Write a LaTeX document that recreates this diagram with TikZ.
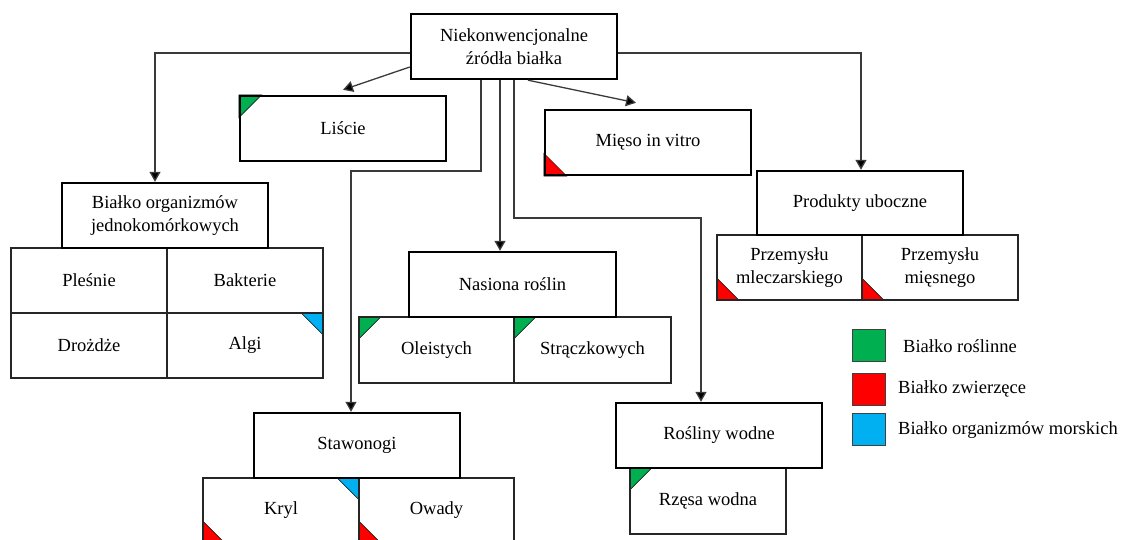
\documentclass[tikz,border=0pt]{standalone}
\usepackage{fontspec}
\setmainfont{Liberation Serif}
\newfontfamily\tnr{Liberation Serif}
\usetikzlibrary{arrows.meta,calc}
\pgfdeclarelayer{bg}
\pgfsetlayers{bg,main}
\definecolor{lgreen}{HTML}{00B050}
\definecolor{lred}{HTML}{FF0000}
\definecolor{lblue}{HTML}{00B0F0}
\definecolor{lineg}{HTML}{3A3A3A}
\newcommand\fsz{\tnr\fontsize{18.5}{23}\selectfont}
\newcommand\triTL[2]{\filldraw[tri,fill=#2] (#1.north west) -- ++(23,0) -- ++(-23,23) -- cycle;}
\newcommand\triTR[2]{\filldraw[tri,fill=#2] (#1.north east) -- ++(-23,0) -- ++(23,23) -- cycle;}
\newcommand\triBL[2]{\filldraw[tri,fill=#2] (#1.south west) -- ++(23,0) -- ++(-23,-23) -- cycle;}
\begin{document}
\begin{tikzpicture}[x=1pt,y=-1pt,
  every node/.style={font=\fsz},
  mainbox/.style={draw=black, line width=2.4pt, minimum width=206pt, minimum height=65pt, align=center, inner sep=0pt},
  subbox/.style={draw=black!85, line width=1.3pt, minimum height=65pt, align=center, inner sep=0pt},
  conn/.style={draw=lineg, line width=1.3pt, -{Triangle[length=10pt,width=11pt,fill=black]}},
  tri/.style={draw=black, line width=0.5pt},
  legbox/.style={draw=black!75, line width=1pt, minimum width=33pt, minimum height=32pt, inner sep=0pt},
  legtext/.style={anchor=west, inner sep=0pt}]
\useasboundingbox (0,0) rectangle (1121,540);
% sub boxes
\node[subbox, minimum width=156pt] (ples) at (89,280.5) {Pleśnie};
\node[subbox, minimum width=156pt] (bakt) at (245,280.5) {Bakterie};
\node[subbox, minimum width=156pt] (droz) at (89,345.5) {Drożdże};
\node[subbox, minimum width=156pt] (algi) at (245,345.5) {Algi};
\node[subbox, minimum width=145pt] (mlecz) at (789.5,267.5) {Przemysłu\\mleczarskiego};
\node[subbox, minimum width=156pt] (miesn) at (940,267.5) {Przemysłu\\mięsnego};
\node[subbox, minimum width=155pt, minimum height=66pt] (oleis) at (436.5,350) {Oleistych};
\node[subbox, minimum width=157pt, minimum height=66pt] (strak) at (592.5,350) {Strączkowych};
\node[subbox, minimum width=156pt] (kryl) at (281,510.5) {Kryl};
\node[subbox, minimum width=155pt] (owady) at (436.5,510.5) {Owady};
\node[subbox, minimum width=156pt, minimum height=66pt] (rzesa) at (708,501) {Rzęsa wodna};
% main boxes
\node[mainbox] (top) at (514,46.5) {Niekonwencjonalne\\źródła białka};
\node[mainbox] (liscie) at (343,128.5) {Liście};
\node[mainbox] (mieso) at (648,142.5) {Mięso in vitro};
\node[mainbox] (bialko) at (165,215.5) {Białko organizmów\\jednokomórkowych};
\node[mainbox, minimum height=64pt] (produkty) at (860,203) {Produkty uboczne};
\node[mainbox, minimum width=207pt] (nasiona) at (512.5,284.5) {Nasiona roślin};
\node[mainbox] (staw) at (357,445.5) {Stawonogi};
\node[mainbox] (rosl) at (719,435.5) {Rośliny wodne};
% corner marks
\begin{pgfonlayer}{bg}
\triTL{liscie}{lgreen}
\triBL{mieso}{lred}
\triTR{algi}{lblue}
\triTL{oleis}{lgreen}
\triTL{strak}{lgreen}
\triBL{mlecz}{lred}
\triBL{miesn}{lred}
\triTR{kryl}{lblue}
\triBL{kryl}{lred}
\triBL{owady}{lred}
\triTL{rzesa}{lgreen}
\end{pgfonlayer}
% connectors
\coordinate (b1) at (155,53);
\coordinate (b2) at (861,53);
\coordinate (s1) at (481,171);
\coordinate (s2) at (351,171);
\coordinate (n1) at (500,0);
\coordinate (r1) at (514,218);
\coordinate (r2) at (701,218);
\draw[conn] (top.west |- b1) -- (b1) -- (bialko.north -| b1);
\draw[conn] ($(top.west)+(0,20.5)$) -- ($(liscie.north)+(0,-5)$);
\draw[conn] ($(top.south)+(14,0)$) -- ($(mieso.north)+(-12,-6)$);
\draw[conn] (top.east |- b2) -- (b2) -- (produkty.north -| b2);
\draw[conn] (top.south -| s1) -- (s1) -- (s2) -- (staw.north -| s2);
\draw[conn] (top.south -| n1) -- (nasiona.north -| n1);
\draw[conn] (top.south -| r1) -- (r1) -- (r2) -- (rosl.north -| r2);
% legend
\node[legbox, fill=lgreen] (lg) at (869,345) {};
\node[legbox, fill=lred] (lr) at (869,389.5) {};
\node[legbox, fill=lblue] (lb) at (869,429.5) {};
\node[legtext] (lgt) at (903,346) {Białko roślinne};
\node[legtext] (lrt) at (898,389) {Białko zwierzęce};
\node[legtext] (lbt) at (898,430) {Białko organizmów morskich};
\end{tikzpicture}
\end{document}
